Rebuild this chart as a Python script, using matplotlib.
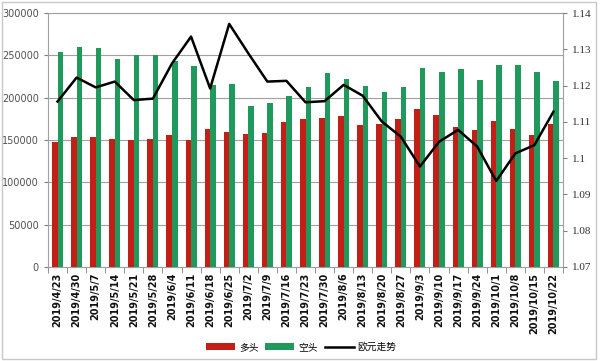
import matplotlib
matplotlib.use("Agg")
import matplotlib.pyplot as plt
import numpy as np
from matplotlib.patches import Rectangle

plt.rcParams["font.family"] = ["DejaVu Sans", "Noto Sans CJK SC"]

# ── Données ──────────────────────────────────────────────────────────────────
dates = [
    "2019/4/23", "2019/4/30", "2019/5/7", "2019/5/14", "2019/5/21", "2019/5/28",
    "2019/6/4", "2019/6/11", "2019/6/18", "2019/6/25", "2019/7/2", "2019/7/9",
    "2019/7/16", "2019/7/23", "2019/7/30", "2019/8/6", "2019/8/13", "2019/8/20",
    "2019/8/27", "2019/9/3", "2019/9/10", "2019/9/17", "2019/9/24", "2019/10/1",
    "2019/10/8", "2019/10/15", "2019/10/22",
]
longs = [
    147600, 154000, 153200, 151200, 150400, 151200, 155500, 150400, 163400,
    159400, 157500, 158700, 171300, 174500, 176000, 178700, 167700, 168500,
    174500, 187000, 180000, 165000, 161500, 172000, 163400, 155500, 168900,
]
shorts = [
    253600, 259800, 258700, 246000, 250400, 250400, 243300, 237000, 215300,
    215700, 189800, 194100, 202000, 212200, 228800, 222500, 213700, 207000,
    212200, 235000, 230700, 233500, 221300, 238200, 238200, 230700, 220200,
]
eurusd = [
    1.1156, 1.1222, 1.1195, 1.1211, 1.1160, 1.1164, 1.1261, 1.1335, 1.1192,
    1.1370, 1.1289, 1.1211, 1.1213, 1.1154, 1.1157, 1.1202, 1.1172, 1.1101,
    1.1059, 1.0977, 1.1045, 1.1078, 1.1032, 1.0937, 1.1013, 1.1036, 1.1128,
]

RED = "#c41f16"
GREEN = "#1f9a5c"

fig = plt.figure(figsize=(6.0, 3.61), dpi=100)
fig.patches.append(Rectangle((0.004, 0.006), 0.99, 0.988, transform=fig.transFigure,
                             fill=False, edgecolor="#c8c8c8", linewidth=1.0))

ax = fig.add_axes([48 / 600, 1 - 267 / 361, (563 - 48) / 600, (267 - 13) / 361])
x = np.arange(len(dates))
w = 0.29
ax.bar(x - w / 2, longs, width=w, color=RED, label="多头", zorder=3)
ax.bar(x + w / 2, shorts, width=w, color=GREEN, label="空头", zorder=3)

ax.set_xlim(-0.5, len(dates) - 0.5)
ax.set_ylim(0, 300000)
ax.set_yticks(np.arange(0, 300001, 50000))
ax.yaxis.grid(True, color="#a0a0a0", linewidth=0.8, zorder=0)
ax.set_axisbelow(True)
for s in ax.spines.values():
    s.set_color("#a0a0a0")
    s.set_linewidth(0.8)
ax.tick_params(axis="y", labelsize=7, color="#808080", length=3, labelcolor="#505050")

ax.set_xticks(x)
ax.set_xticklabels(dates, rotation=90, fontsize=7, fontweight="bold", color="#111111")
ax.set_xticks(np.arange(-0.5, len(dates), 1.0), minor=True)
ax.tick_params(axis="x", which="major", length=0, pad=4)
ax.tick_params(axis="x", which="minor", length=4, color="#808080")

ax2 = ax.twinx()
ax2.plot(x, eurusd, color="black", linewidth=1.8, label="欧元走势", zorder=5)
ax2.set_ylim(1.07, 1.14)
ax2.set_yticks([1.07, 1.08, 1.09, 1.10, 1.11, 1.12, 1.13, 1.14])
ax2.set_yticklabels(["1.07", "1.08", "1.09", "1.1", "1.11", "1.12", "1.13", "1.14"],
                    family="Liberation Serif", fontsize=8)
ax2.tick_params(axis="y", length=3, color="#808080", labelcolor="#303030")
for s in ax2.spines.values():
    s.set_visible(False)

h1, l1 = ax.get_legend_handles_labels()
h2, l2 = ax2.get_legend_handles_labels()
fig.legend(h1 + h2, l1 + l2, loc="center", bbox_to_anchor=(0.502, 1 - 347 / 361),
           ncol=3, frameon=False, handlelength=3.0, handleheight=0.6,
           columnspacing=0.7, handletextpad=0.4,
           prop={"family": ["Noto Sans CJK SC", "DejaVu Sans"], "size": 7})

fig.savefig("out.png", dpi=100)
